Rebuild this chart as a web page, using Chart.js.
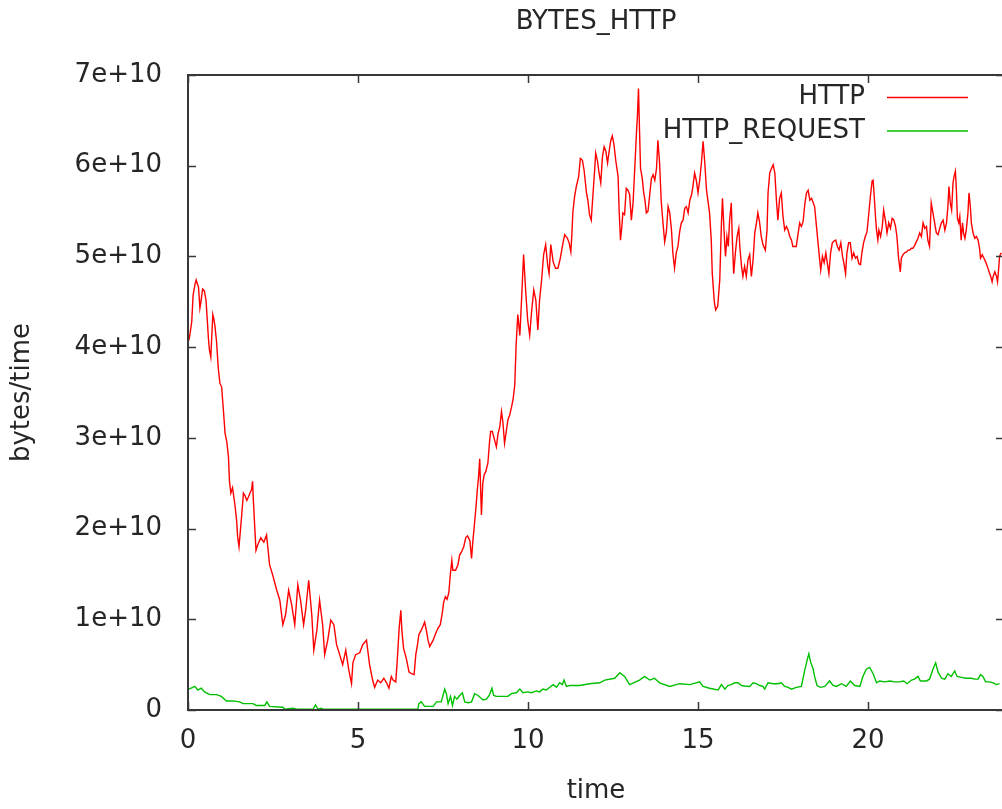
<!DOCTYPE html>
<html lang="en">
<head>
    <meta charset="UTF-8">
    <title>BYTES_HTTP</title>
    <script src="https://cdn.jsdelivr.net/npm/chart.js"></script>
    <style>
        html, body { margin: 0; padding: 0; background: #fff; overflow: hidden; }
        #box { position: absolute; left: 0; top: 0; width: 1012px; height: 809px; }
    </style>
</head>
<body>
    <div id="box"><canvas id="grafico"></canvas></div>
<script>
    // hours of the day and bytes/time, in units of 1e10
    var httpT = [0.00,0.04,0.11,0.15,0.21,0.24,0.31,0.35,0.38,0.43,0.48,0.53,0.57,0.60,0.63,0.67,0.70,0.73,0.76,0.79,
        0.84,0.89,0.94,0.99,1.04,1.09,1.14,1.19,1.22,1.26,1.31,1.34,1.38,1.43,1.46,1.50,1.53,1.58,1.63,1.68,
        1.73,1.78,1.82,1.87,1.90,1.92,1.97,2.00,2.05,2.14,2.23,2.31,2.40,2.49,2.61,2.70,2.79,2.87,2.96,3.05,
        3.14,3.23,3.31,3.40,3.46,3.55,3.64,3.70,3.79,3.87,3.96,4.02,4.11,4.20,4.29,4.37,4.46,4.55,4.64,4.73,
        4.81,4.85,4.93,5.05,5.14,5.25,5.34,5.43,5.49,5.58,5.67,5.76,5.84,5.91,5.98,6.03,6.11,6.15,6.21,6.26,
        6.29,6.34,6.42,6.50,6.57,6.65,6.70,6.75,6.79,6.86,6.91,6.96,7.01,7.06,7.11,7.21,7.29,7.35,7.42,7.48,
        7.52,7.57,7.62,7.67,7.72,7.76,7.79,7.87,7.94,7.99,8.04,8.11,8.17,8.22,8.29,8.34,8.38,8.43,8.48,8.51,
        8.55,8.58,8.63,8.67,8.71,8.76,8.82,8.87,8.90,8.95,9.00,9.07,9.12,9.17,9.22,9.26,9.31,9.36,9.41,9.46,
        9.51,9.56,9.61,9.65,9.70,9.76,9.81,9.87,9.93,9.99,10.05,10.11,10.17,10.23,10.29,10.34,10.40,10.46,10.52,10.58,
        10.62,10.67,10.74,10.81,10.88,10.95,11.03,11.08,11.16,11.21,11.26,11.29,11.32,11.37,11.42,11.49,11.54,11.60,11.65,11.72,
        11.76,11.81,11.86,11.91,11.96,11.99,12.04,12.09,12.14,12.19,12.24,12.29,12.34,12.38,12.43,12.48,12.53,12.58,12.65,12.68,
        12.72,12.76,12.79,12.84,12.89,12.94,12.99,13.04,13.09,13.14,13.19,13.22,13.25,13.28,13.31,13.36,13.40,13.44,13.48,13.53,
        13.58,13.63,13.68,13.73,13.78,13.82,13.87,13.92,13.97,14.02,14.07,14.12,14.17,14.22,14.26,14.31,14.36,14.41,14.46,14.51,
        14.56,14.61,14.66,14.71,14.76,14.81,14.85,14.90,14.95,15.00,15.05,15.10,15.15,15.20,15.25,15.29,15.34,15.39,15.42,15.48,
        15.52,15.58,15.64,15.69,15.72,15.76,15.79,15.81,15.85,15.89,15.93,15.98,16.01,16.05,16.10,16.15,16.20,16.23,16.28,16.32,
        16.37,16.42,16.47,16.52,16.57,16.62,16.67,16.72,16.76,16.81,16.86,16.91,16.98,17.03,17.06,17.11,17.16,17.21,17.26,17.31,
        17.35,17.40,17.45,17.50,17.55,17.60,17.65,17.70,17.75,17.79,17.89,17.94,17.99,18.04,18.09,18.14,18.19,18.24,18.29,18.34,
        18.38,18.43,18.48,18.53,18.58,18.61,18.66,18.71,18.76,18.81,18.85,18.90,18.95,19.00,19.05,19.10,19.15,19.20,19.25,19.29,
        19.34,19.38,19.43,19.48,19.53,19.58,19.63,19.68,19.73,19.78,19.82,19.87,19.92,19.97,20.02,20.07,20.12,20.15,20.18,20.22,
        20.25,20.29,20.32,20.37,20.42,20.46,20.51,20.56,20.61,20.66,20.71,20.76,20.81,20.85,20.90,20.95,20.98,21.03,21.08,21.13,
        21.18,21.23,21.28,21.32,21.37,21.42,21.47,21.52,21.57,21.62,21.67,21.72,21.76,21.81,21.86,21.91,21.96,22.01,22.06,22.11,
        22.16,22.21,22.26,22.31,22.35,22.38,22.42,22.46,22.50,22.53,22.57,22.60,22.63,22.67,22.70,22.74,22.78,22.81,22.85,22.89,
        22.94,22.97,23.01,23.04,23.09,23.14,23.19,23.24,23.28,23.31,23.36,23.41,23.46,23.51,23.56,23.61,23.65,23.68,23.73,23.78,
        23.81,23.84,23.87,23.92];
    var httpV = [4.05,4.10,4.28,4.57,4.70,4.74,4.66,4.43,4.50,4.64,4.62,4.52,4.28,4.10,3.97,3.89,4.12,4.36,4.31,4.24,
        4.06,3.77,3.60,3.56,3.31,3.05,2.96,2.79,2.52,2.39,2.45,2.37,2.26,2.09,1.91,1.80,1.93,2.15,2.39,2.36,
        2.31,2.35,2.39,2.43,2.52,2.33,1.97,1.76,1.82,1.90,1.85,1.93,1.60,1.49,1.32,1.21,0.94,1.05,1.32,1.16,
        0.94,1.38,1.21,0.94,1.10,1.43,1.05,0.66,0.88,1.21,0.94,0.61,0.77,0.99,0.94,0.72,0.61,0.50,0.66,0.44,
        0.29,0.52,0.61,0.63,0.72,0.77,0.50,0.33,0.25,0.33,0.30,0.35,0.30,0.24,0.37,0.33,0.31,0.52,0.90,1.10,
        0.88,0.68,0.57,0.42,0.40,0.39,0.61,0.72,0.83,0.88,0.92,0.97,0.88,0.77,0.70,0.77,0.85,0.90,0.94,1.07,
        1.19,1.25,1.22,1.29,1.51,1.65,1.54,1.54,1.60,1.71,1.74,1.80,1.90,1.92,1.87,1.67,1.87,2.07,2.28,2.43,
        2.59,2.77,2.15,2.50,2.59,2.63,2.72,2.96,3.07,3.07,3.00,2.90,3.05,3.12,3.29,3.18,2.94,3.07,3.20,3.25,
        3.33,3.42,3.58,4.02,4.36,4.13,4.52,5.02,4.63,4.30,4.13,4.41,4.63,4.52,4.19,4.52,4.74,5.02,5.13,4.90,
        4.81,5.13,4.94,4.87,4.87,4.98,5.15,5.24,5.20,5.15,5.05,5.24,5.49,5.66,5.77,5.88,6.08,6.06,5.95,5.70,
        5.62,5.46,5.40,5.68,5.95,6.14,6.06,5.92,5.81,6.10,6.21,6.16,6.03,6.14,6.27,6.33,6.23,6.06,5.88,5.51,
        5.18,5.33,5.48,5.46,5.75,5.73,5.68,5.40,5.59,5.97,6.36,6.56,6.85,6.39,5.97,5.86,5.71,5.62,5.48,5.50,
        5.68,5.86,5.90,5.84,5.97,6.28,6.03,5.60,5.37,5.16,5.27,5.55,5.48,5.29,5.04,4.87,5.04,5.11,5.27,5.37,
        5.40,5.53,5.55,5.48,5.62,5.68,5.77,5.92,5.84,5.70,5.84,6.03,6.27,6.03,5.73,5.62,5.48,5.18,4.81,4.50,
        4.41,4.45,4.74,5.37,5.64,5.33,5.11,5.00,5.22,5.11,5.40,5.59,5.18,4.81,5.04,5.22,5.31,5.11,4.89,4.78,
        4.89,4.78,4.96,5.02,4.78,4.96,5.26,5.37,5.48,5.38,5.22,5.13,5.07,5.29,5.70,5.92,5.97,6.01,5.92,5.60,
        5.40,5.64,5.70,5.44,5.29,5.33,5.29,5.22,5.18,5.11,5.11,5.24,5.37,5.33,5.38,5.57,5.70,5.73,5.62,5.64,
        5.60,5.55,5.35,5.15,4.96,4.85,5.00,4.93,5.04,4.91,4.81,5.04,5.15,5.17,5.18,5.11,5.07,5.15,5.00,4.93,
        4.81,5.04,5.15,5.15,4.98,5.04,4.98,5.00,4.92,4.91,5.04,5.15,5.22,5.27,5.46,5.66,5.83,5.84,5.68,5.44,
        5.29,5.18,5.29,5.22,5.33,5.51,5.40,5.26,5.37,5.31,5.42,5.40,5.33,5.22,4.98,4.83,4.98,5.02,5.04,5.05,
        5.07,5.07,5.09,5.09,5.12,5.16,5.20,5.26,5.22,5.37,5.31,5.33,5.18,5.11,5.59,5.48,5.37,5.26,5.24,5.31,
        5.37,5.40,5.29,5.37,5.55,5.77,5.59,5.51,5.81,5.88,5.94,5.73,5.42,5.37,5.44,5.18,5.37,5.26,5.20,5.29,
        5.48,5.70,5.55,5.37,5.26,5.20,5.22,5.18,5.09,4.98,5.02,4.98,4.94,4.89,4.83,4.78,4.72,4.78,4.83,4.78,
        4.72,4.85,5.00,5.04];

    var reqT = [0.00,0.03,0.20,0.29,0.39,0.49,0.64,0.84,0.98,1.13,1.32,1.52,1.62,1.91,2.01,2.26,2.32,2.40,2.79,2.84,
        3.09,3.19,3.68,3.75,3.82,3.92,3.96,5.64,6.76,6.79,6.86,6.96,7.21,7.31,7.45,7.55,7.60,7.65,7.72,7.78,
        7.84,7.91,7.99,8.07,8.14,8.24,8.34,8.43,8.53,8.68,8.78,8.87,8.94,8.99,9.07,9.26,9.41,9.51,9.66,9.76,
        9.85,10.00,10.10,10.25,10.34,10.44,10.54,10.64,10.74,10.84,10.93,11.01,11.06,11.13,11.23,11.52,11.81,12.11,12.26,12.55,
        12.70,12.84,12.99,13.28,13.43,13.58,13.72,13.87,14.17,14.46,14.76,15.05,15.15,15.34,15.59,15.69,15.79,15.88,15.98,16.08,
        16.18,16.28,16.37,16.52,16.62,16.72,16.81,16.91,16.96,17.06,17.21,17.35,17.45,17.55,17.65,17.75,17.89,18.04,18.14,18.21,
        18.26,18.31,18.38,18.43,18.50,18.60,18.73,18.87,18.97,19.07,19.22,19.36,19.48,19.61,19.76,19.85,19.95,20.05,20.15,20.25,
        20.34,20.49,20.64,20.79,20.93,21.05,21.15,21.28,21.37,21.47,21.54,21.72,21.81,21.91,21.99,22.06,22.16,22.26,22.35,22.45,
        22.55,22.62,22.75,22.89,23.04,23.14,23.24,23.31,23.38,23.46,23.58,23.68,23.78,23.87];
    var reqV = [0.23,0.23,0.26,0.22,0.24,0.20,0.17,0.17,0.15,0.10,0.10,0.09,0.07,0.07,0.05,0.05,0.09,0.04,0.03,0.01,
        0.02,0.01,0.01,0.055,0.01,0.02,0.01,0.01,0.01,0.07,0.09,0.04,0.04,0.09,0.09,0.23,0.18,0.07,0.15,0.05,
        0.15,0.12,0.16,0.19,0.09,0.08,0.09,0.18,0.16,0.11,0.12,0.17,0.24,0.16,0.15,0.15,0.15,0.18,0.19,0.23,
        0.19,0.20,0.19,0.21,0.20,0.23,0.22,0.25,0.28,0.25,0.30,0.28,0.33,0.26,0.27,0.27,0.29,0.30,0.33,0.35,
        0.41,0.37,0.28,0.33,0.37,0.33,0.35,0.30,0.26,0.29,0.28,0.31,0.26,0.24,0.22,0.28,0.23,0.27,0.28,0.30,
        0.30,0.27,0.265,0.26,0.30,0.29,0.27,0.26,0.23,0.30,0.29,0.29,0.30,0.26,0.25,0.23,0.25,0.26,0.44,0.55,
        0.62,0.53,0.46,0.37,0.27,0.25,0.26,0.32,0.27,0.26,0.29,0.26,0.32,0.27,0.26,0.37,0.45,0.47,0.40,0.30,
        0.32,0.31,0.32,0.31,0.31,0.32,0.29,0.33,0.34,0.37,0.32,0.32,0.34,0.45,0.52,0.42,0.35,0.34,0.40,0.37,
        0.43,0.37,0.36,0.35,0.35,0.34,0.34,0.39,0.37,0.31,0.31,0.30,0.28,0.29];

    var xTicks = [0, 5, 10, 15, 20];
    var yTicks = [0, 1, 2, 3, 4, 5, 6, 7];
    var ESCALA = 1e10;

    var corTexto = '#262626';
    var corMoldura = '#383838';

    Chart.defaults.font.family = "'DejaVu Sans', sans-serif";
    Chart.defaults.font.size = 26;
    Chart.defaults.color = corTexto;

    function pontos(ts, vs) {
        var lista = [];
        for (var i = 0; i < ts.length; i++) {
            lista.push({ x: ts[i], y: vs[i] * ESCALA });
        }
        return lista;
    }

    var series = [
        { nome: 'HTTP', cor: '#ff0000' },
        { nome: 'HTTP_REQUEST', cor: '#00c000' }
    ];

    // gnuplot style frame: box around the plot with inward ticks, legend inside top right
    var moldura = {
        id: 'moldura',
        afterDatasetsDraw: function (chart) {
            var ctx = chart.ctx;
            var a = chart.chartArea;
            var sx = chart.scales.x;
            var sy = chart.scales.y;
            var tam = 8;
            ctx.save();
            ctx.strokeStyle = corMoldura;
            ctx.lineWidth = 2;
            ctx.strokeRect(a.left, a.top, a.right - a.left, a.bottom - a.top);
            ctx.lineWidth = 1.5;
            ctx.beginPath();
            yTicks.forEach(function (v) {
                var py = Math.round(sy.getPixelForValue(v * ESCALA)) + 0.5;
                ctx.moveTo(a.left, py); ctx.lineTo(a.left + tam, py);
                ctx.moveTo(a.right, py); ctx.lineTo(a.right - tam, py);
            });
            xTicks.forEach(function (v) {
                var px = Math.round(sx.getPixelForValue(v)) + 0.5;
                ctx.moveTo(px, a.bottom); ctx.lineTo(px, a.bottom - tam);
                ctx.moveTo(px, a.top); ctx.lineTo(px, a.top + tam);
            });
            ctx.stroke();

            // legenda
            ctx.font = "26px 'DejaVu Sans', sans-serif";
            ctx.textAlign = 'right';
            ctx.textBaseline = 'middle';
            var linhas = [97.5, 131];
            series.forEach(function (s, i) {
                ctx.fillStyle = corTexto;
                ctx.fillText(s.nome, 865, linhas[i]);
                ctx.strokeStyle = s.cor;
                ctx.lineWidth = 1.4;
                ctx.beginPath();
                ctx.moveTo(887, linhas[i]);
                ctx.lineTo(968, linhas[i]);
                ctx.stroke();
            });
            ctx.restore();
        }
    };

    var ctx = document.getElementById('grafico').getContext('2d');
    var grafico = new Chart(ctx, {
        type: 'line',
        data: {
            datasets: [
                {
                    label: series[0].nome,
                    data: pontos(httpT, httpV),
                    borderColor: series[0].cor,
                    borderWidth: 1.4,
                    pointRadius: 0,
                    tension: 0,
                    fill: false
                },
                {
                    label: series[1].nome,
                    data: pontos(reqT, reqV),
                    borderColor: series[1].cor,
                    borderWidth: 1.4,
                    pointRadius: 0,
                    tension: 0,
                    fill: false
                }
            ]
        },
        options: {
            responsive: true,
            maintainAspectRatio: false,
            animation: false,
            events: [],
            layout: { padding: { right: 8 } },
            plugins: {
                legend: { display: false },
                tooltip: { enabled: false },
                title: {
                    display: true,
                    fullSize: false,
                    text: 'BYTES_HTTP',
                    color: corTexto,
                    font: { size: 26, weight: 'normal' },
                    padding: { top: 7, bottom: 36.8 }
                }
            },
            scales: {
                x: {
                    type: 'linear',
                    min: 0,
                    max: 24,
                    grid: { display: false, drawTicks: false },
                    border: { display: false },
                    afterBuildTicks: function (s) { s.ticks = xTicks.map(function (v) { return { value: v }; }); },
                    afterFit: function (s) { s.height = 99; },
                    ticks: { padding: 16, maxRotation: 0, autoSkip: false },
                    title: { display: true, text: 'time', padding: { top: 0, bottom: 2 } }
                },
                y: {
                    min: 0,
                    max: 7 * ESCALA,
                    grid: { display: false, drawTicks: false },
                    border: { display: false },
                    afterBuildTicks: function (s) { s.ticks = yTicks.map(function (v) { return { value: v * ESCALA }; }); },
                    afterFit: function (s) { s.width = 188; },
                    ticks: {
                        padding: 26,
                        autoSkip: false,
                        callback: function (valor) {
                            var n = Math.round(valor / ESCALA);
                            return n === 0 ? '0' : n + 'e+10';
                        }
                    },
                    title: { display: true, text: 'bytes/time', padding: { top: 7, bottom: 0 } }
                }
            }
        },
        plugins: [moldura]
    });
</script>
</body>
</html>
